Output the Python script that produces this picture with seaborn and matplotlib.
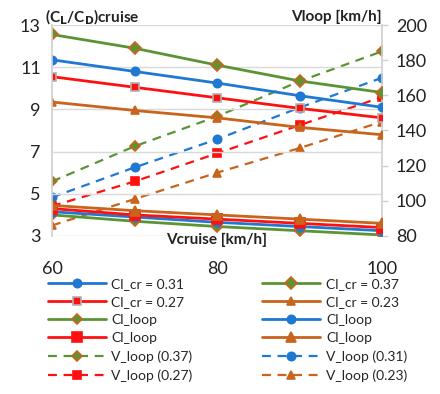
import numpy as np
import pandas as pd
import matplotlib
matplotlib.use("Agg")
import matplotlib.pyplot as plt
import seaborn as sns

# data
v_cruise = [60, 70, 80, 90, 100]

# (CL/CD) cruise, left axis
ld_cr_037 = [12.55, 11.9, 11.1, 10.35, 9.8]
ld_cr_031 = [11.35, 10.8, 10.25, 9.65, 9.1]
ld_cr_027 = [10.55, 10.05, 9.55, 9.05, 8.6]
ld_cr_023 = [9.35, 8.95, 8.6, 8.15, 7.8]

# Cl_loop curves, left axis
ld_loop_037 = [4.0, 3.7, 3.45, 3.25, 3.05]
ld_loop_031 = [4.15, 3.9, 3.65, 3.45, 3.25]
ld_loop_027 = [4.3, 4.0, 3.8, 3.6, 3.4]
ld_loop_023 = [4.45, 4.2, 4.0, 3.8, 3.6]

# V_loop, right axis
v_loop_037 = [111, 131, 148, 168, 185]
v_loop_031 = [102, 119, 135, 153, 170]
v_loop_027 = [97, 111, 127, 143, 159]
v_loop_023 = [86, 101, 116, 130, 145]

x_ticks = [60, 80, 100]
left_ticks = [3, 5, 7, 9, 11, 13]
right_ticks = [80, 100, 120, 140, 160, 180, 200]

GREEN = "#5a9434"
BLUE = "#1f78d1"
RED = "#ff1010"
ORANGE = "#c8641c"

sns.set_theme(style="white")
plt.rcParams["font.family"] = ["Lato", "DejaVu Sans"]

fig = plt.figure(figsize=(4.4, 3.94), dpi=100)
ax = fig.add_axes([52 / 440, 1 - 236 / 394, 330 / 440, 211 / 394])
ax2 = ax.twinx()


def draw(axis, y, color, marker, label, ls="-", ms=6, mfc=None, mec=None, lw=2.0):
    sns.lineplot(x=v_cruise, y=y, ax=axis, color=color, marker=marker,
                 markersize=ms, markerfacecolor=mfc or color,
                 markeredgecolor=mec or color, markeredgewidth=1.2,
                 linestyle=ls, linewidth=lw, label=label, legend=False)
    return axis.lines[-1]


h = {}
# V_loop dashed lines (right axis)
h["v037"] = draw(ax2, v_loop_037, GREEN, "D", "V_loop (0.37)", ls=(0, (4, 3)), ms=5, mec=ORANGE, lw=1.6)
h["v031"] = draw(ax2, v_loop_031, BLUE, "o", "V_loop (0.31)", ls=(0, (4, 3)), ms=6, lw=1.6)
h["v027"] = draw(ax2, v_loop_027, RED, "s", "V_loop (0.27)", ls=(0, (4, 3)), ms=6, lw=1.6)
h["v023"] = draw(ax2, v_loop_023, ORANGE, "^", "V_loop (0.23)", ls=(0, (4, 3)), ms=6, lw=1.6)

# Cl_loop solid lines (left axis, low group)
h["l037"] = draw(ax, ld_loop_037, GREEN, "D", "Cl_loop", ms=5, mec=ORANGE)
h["l031"] = draw(ax, ld_loop_031, BLUE, "o", "Cl_loop", ms=6)
h["l027"] = draw(ax, ld_loop_027, RED, "s", "Cl_loop", ms=7)
h["l023"] = draw(ax, ld_loop_023, ORANGE, "^", "Cl_loop", ms=7)

# Cl_cr solid lines (left axis, high group)
h["c037"] = draw(ax, ld_cr_037, GREEN, "D", "Cl_cr = 0.37", ms=6, mec=ORANGE)
h["c031"] = draw(ax, ld_cr_031, BLUE, "o", "Cl_cr = 0.31", ms=6)
h["c027"] = draw(ax, ld_cr_027, RED, "s", "Cl_cr = 0.27", ms=6, mec="#b0b0b0")
h["c023"] = draw(ax, ld_cr_023, ORANGE, "^", "Cl_cr = 0.23", ms=6)

ax.set_zorder(ax2.get_zorder() + 1)
ax.patch.set_visible(False)

ax.set_xlim(60, 100)
ax.set_ylim(3, 13)
ax2.set_ylim(80, 200)
ax.set_xticks(x_ticks)
ax.set_yticks(left_ticks)
ax2.set_yticks(right_ticks)
ax.grid(axis="y", color="#d9d9d9", linewidth=1.0)
ax.grid(axis="x", visible=False)
ax2.grid(False)

for a in (ax, ax2):
    for s in a.spines.values():
        s.set_visible(False)
ax.spines["left"].set_visible(True)
ax.spines["left"].set_color("#d0d0d0")
ax2.spines["right"].set_visible(True)
ax2.spines["right"].set_color("#d0d0d0")

ax.tick_params(axis="y", labelsize=13, length=0, pad=8, colors="#222222")
ax.tick_params(axis="x", labelsize=13, length=0, pad=18, colors="#222222")
ax2.tick_params(axis="y", labelsize=13, length=4, width=1, color="#d0d0d0",
                direction="out", pad=6, labelcolor="#222222")
ax.set_xlabel("")
ax.set_ylabel("")
ax2.set_ylabel("")

ax.text(80, -0.02, "Vcruise [km/h]", transform=ax.get_xaxis_transform(),
        ha="center", va="center", fontsize=11, fontweight="bold", color="#222222")
fig.text(45 / 440, 1 - 17 / 394, r"(C$_\mathbf{L}$/C$_\mathbf{D}$)cruise",
         ha="left", va="center", fontsize=11, fontweight="bold", color="#222222")
fig.text(382 / 440, 1 - 17 / 394, "Vloop [km/h]",
         ha="right", va="center", fontsize=11, fontweight="bold", color="#222222")

order = ["c031", "c027", "l037", "l027", "v037", "v027",
         "c037", "c023", "l031", "l023", "v031", "v023"]
handles = [h[k] for k in order]
labels = [k.get_label() for k in handles]
fig.legend(handles, labels, ncol=2, loc="upper left", numpoints=1,
           bbox_to_anchor=(42 / 440, 1 - 272 / 394), frameon=False,
           fontsize=10, handlelength=4.2, handletextpad=0.4,
           columnspacing=5.0, labelspacing=0.45, borderaxespad=0)

fig.savefig("out.png", dpi=100)
